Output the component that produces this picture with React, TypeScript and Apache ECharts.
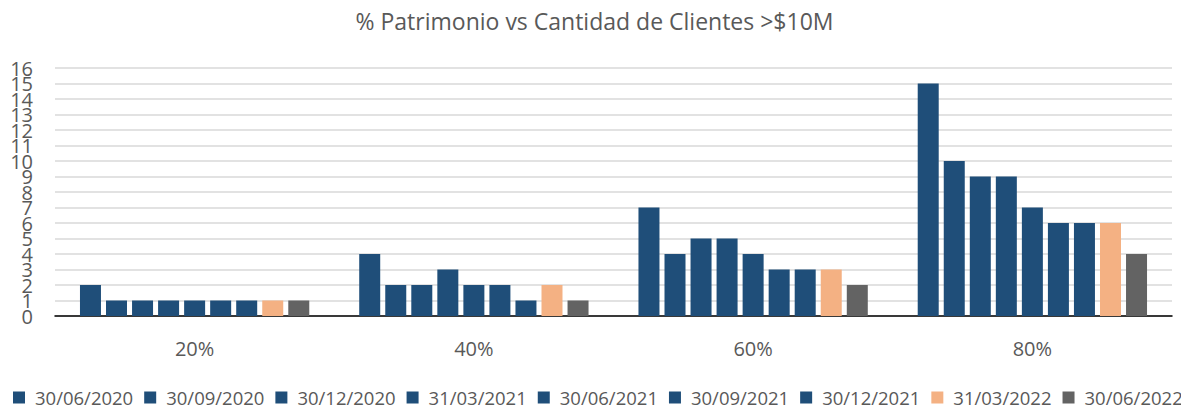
import React, { useEffect, useRef } from "react";
import * as echarts from "echarts";

const categories = ["20%", "40%", "60%", "80%"];
const seriesNames = [
  "30/06/2020",
  "30/09/2020",
  "30/12/2020",
  "31/03/2021",
  "30/06/2021",
  "30/09/2021",
  "30/12/2021",
  "31/03/2022",
  "30/06/2022",
];
const s20200630 = [2, 4, 7, 15];
const s20200930 = [1, 2, 4, 10];
const s20201230 = [1, 2, 5, 9];
const s20210331 = [1, 3, 5, 9];
const s20210630 = [1, 2, 4, 7];
const s20210930 = [1, 2, 3, 6];
const s20211230 = [1, 1, 3, 6];
const s20220331 = [1, 2, 3, 6];
const s20220630 = [1, 1, 2, 4];
const seriesValues = [
  s20200630, s20200930, s20201230, s20210331, s20210630,
  s20210930, s20211230, s20220331, s20220630,
];
const seriesColors = [
  "#1F4E79", "#1F4E79", "#1F4E79", "#1F4E79", "#1F4E79",
  "#1F4E79", "#1F4E79", "#F4B183", "#636363",
];

const FONT = "'Open Sans', 'Noto Sans', sans-serif";

export default function App() {
  const ref = useRef<HTMLDivElement>(null);
  useEffect(() => {
    if (!ref.current) return;
    const chart = echarts.init(ref.current, undefined, { renderer: "svg" });
    const labelBase = {
      fontFamily: FONT,
      fontSize: 20,
      color: "#595959",
      margin: 22,
    };
    chart.setOption({
      animation: false,
      backgroundColor: "#ffffff",
      title: {
        text: "% Patrimonio vs Cantidad de Clientes >$10M",
        left: "center",
        top: 4,
        textStyle: { fontFamily: FONT, fontSize: 23, fontWeight: "normal", color: "#595959" },
      },
      legend: {
        bottom: 2,
        left: 8,
        itemWidth: 12,
        itemHeight: 12,
        itemGap: 11,
        icon: "rect",
        textStyle: { fontFamily: FONT, fontSize: 18.5, color: "#595959", padding: [0, 0, 0, 5] },
        data: seriesNames,
      },
      grid: { left: 55, right: 17, top: 68, bottom: 98, containLabel: false },
      xAxis: {
        type: "category",
        data: categories,
        axisLine: { lineStyle: { color: "#000000", width: 1.5 } },
        axisTick: { show: false },
        axisLabel: { fontFamily: FONT, fontSize: 20, color: "#595959", margin: 22 },
      },
      yAxis: [
        {
          type: "value",
          min: 0,
          max: 16,
          interval: 2,
          position: "left",
          axisLine: { show: false },
          axisTick: { show: false },
          splitLine: { show: false },
          axisLabel: { ...labelBase, showMinLabel: true, showMaxLabel: true },
        },
        {
          type: "value",
          min: 0,
          max: 16,
          interval: 1,
          position: "left",
          axisLine: { show: false },
          axisTick: { show: false },
          splitLine: { lineStyle: { color: "#D9D9D9", width: 1.5 } },
          axisLabel: {
            ...labelBase,
            showMinLabel: false,
            showMaxLabel: false,
            formatter: (v: number) => (v % 2 === 1 ? String(v) : ""),
          },
        },
      ],
      series: seriesNames.map((name, i) => ({
        name,
        type: "bar",
        yAxisIndex: 0,
        data: seriesValues[i],
        barWidth: 21,
        barGap: "24%",
        itemStyle: { color: seriesColors[i] },
      })),
    });
    return () => chart.dispose();
  }, []);
  return <div ref={ref} style={{ width: 1189, height: 414, margin: -8 }} />;
}
